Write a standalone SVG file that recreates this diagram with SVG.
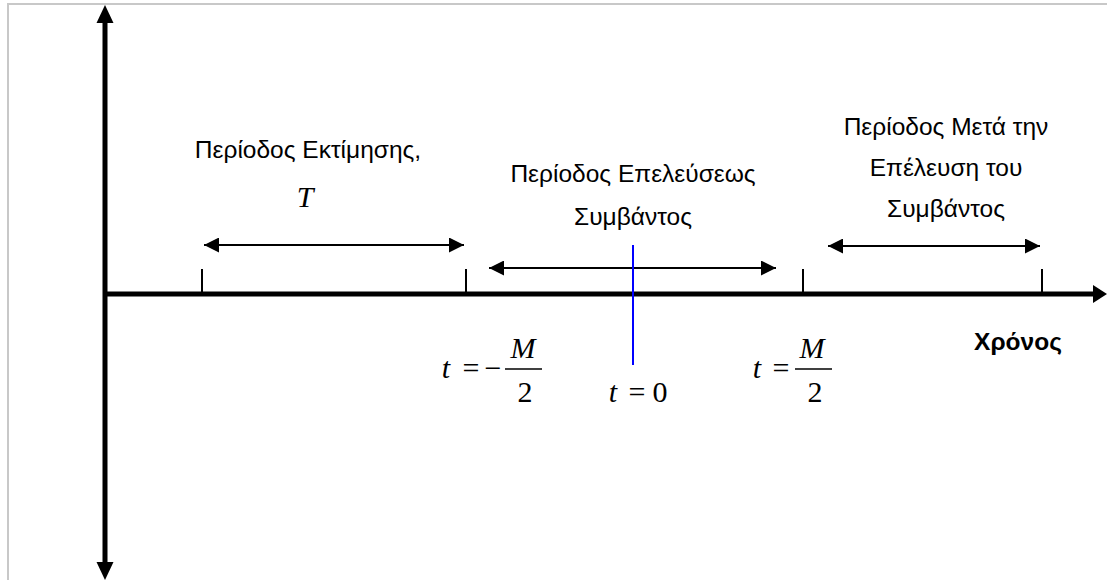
<svg xmlns="http://www.w3.org/2000/svg" width="1107" height="580" viewBox="0 0 1107 580">
<defs>
<style>
.lbl{font-family:"Liberation Sans",Arial,sans-serif;font-size:24.5px;fill:#000;text-anchor:middle}
.bold{font-weight:bold}
.math{font-family:"Liberation Serif","Times New Roman",serif;font-size:30px;fill:#000;text-anchor:middle}
.it{font-style:italic}
.ax{stroke:#000;stroke-width:5;fill:none}
.tick{stroke:#000;stroke-width:2;fill:none}
.span{stroke:#000;stroke-width:2;fill:none}
.bar{stroke:#000;stroke-width:1.3}
</style>
<marker id="ah" viewBox="0 0 10 10" refX="10" refY="5" markerWidth="7.5" markerHeight="7.5" markerUnits="strokeWidth" orient="auto-start-reverse">
<path d="M0,0 L10,5 L0,10 z" fill="#000"/>
</marker>
</defs>
<rect width="1107" height="580" fill="#fff"/>
<path d="M8,580 V4 H1107" stroke="#c8c8c8" stroke-width="2" fill="none"/>
<g id="connectors">
<line class="ax" x1="105" y1="22" x2="105" y2="564"/>
<polygon points="105,5 96.5,23 113.5,23" fill="#000"/>
<polygon points="105,580 96.5,562 113.5,562" fill="#000"/>
<line class="ax" x1="105" y1="294" x2="1095" y2="294"/>
<polygon points="1107,294 1093,285 1093,303" fill="#000"/>
<line class="tick" x1="202" y1="269" x2="202" y2="294"/>
<line class="tick" x1="466" y1="269" x2="466" y2="294"/>
<line class="tick" x1="803" y1="269" x2="803" y2="294"/>
<line class="tick" x1="1042" y1="269" x2="1042" y2="294"/>
<line class="span" x1="204" y1="245" x2="464" y2="245" marker-start="url(#ah)" marker-end="url(#ah)"/>
<line class="span" x1="489" y1="268" x2="776" y2="268" marker-start="url(#ah)" marker-end="url(#ah)"/>
<line class="span" x1="828" y1="246" x2="1040" y2="246" marker-start="url(#ah)" marker-end="url(#ah)"/>
<line x1="633" y1="245" x2="633" y2="365" stroke="#0000ff" stroke-width="2"/>
</g>
<g id="estimation">
<text class="lbl" x="308" y="158">Περίοδος Εκτίμησης,</text>
<text class="math it" x="305" y="207">T</text>
</g>
<g id="event">
<text class="lbl" x="633" y="182">Περίοδος Επελεύσεως</text>
<text class="lbl" x="633" y="225">Συμβάντος</text>
</g>
<g id="post">
<text class="lbl" x="946" y="135">Περίοδος Μετά την</text>
<text class="lbl" x="946" y="176">Επέλευση του</text>
<text class="lbl" x="946" y="217">Συμβάντος</text>
</g>
<g id="time-label">
<text class="lbl bold" x="1018" y="350">Χρόνος</text>
</g>
<g id="t-minus">
<text class="math it" x="446" y="378">t</text>
<text class="math" x="471" y="378">=</text>
<text class="math" x="493" y="378">−</text>
<text class="math it" x="523" y="358">M</text>
<line class="bar" x1="505" y1="369" x2="542" y2="369"/>
<text class="math" x="525" y="402">2</text>
</g>
<g id="t-zero">
<text class="math it" x="613" y="402">t</text>
<text class="math" x="637" y="402">=</text>
<text class="math" x="660" y="402">0</text>
</g>
<g id="t-plus">
<text class="math it" x="757" y="378">t</text>
<text class="math" x="781" y="378">=</text>
<text class="math it" x="812" y="358">M</text>
<line class="bar" x1="795" y1="369" x2="832" y2="369"/>
<text class="math" x="815" y="402">2</text>
</g>
</svg>
